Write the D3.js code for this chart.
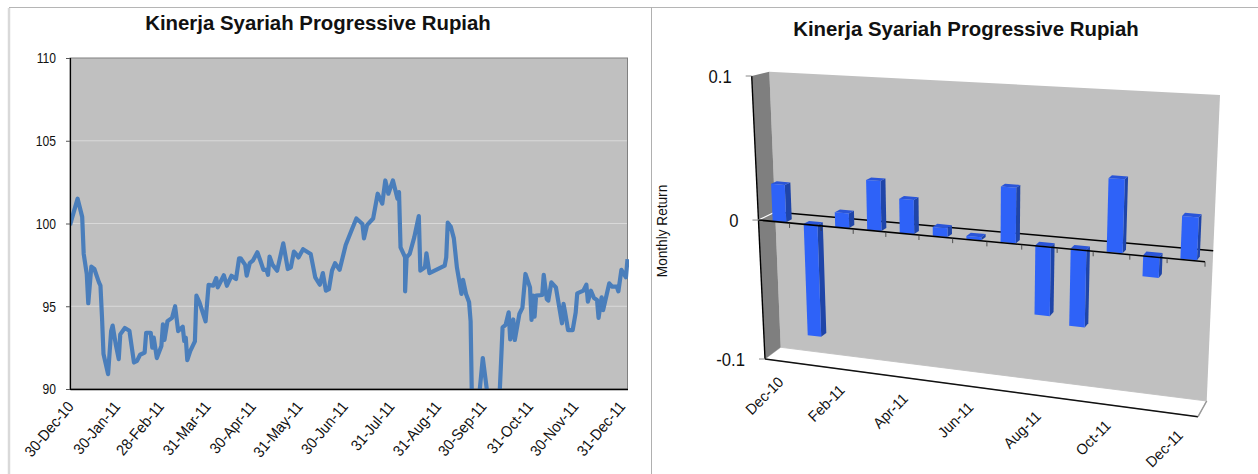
<!DOCTYPE html>
<html>
<head>
<meta charset="utf-8">
<script src="https://cdn.jsdelivr.net/npm/d3@7"></script>
<style>
  html, body { margin: 0; padding: 0; background: #fff; }
  svg { display: block; }
  text { font-family: "Liberation Sans", Arial, sans-serif; fill: #111; }
</style>
</head>
<body>
<div id="master"></div>
<script>
// left chart: days since 30-Dec-10 and index value
let dayOffsets = [0,5,8,9,11,12,14,16,19,20,21,22,25,27,28,30,32,33,36,39,42,44,46,49,50,53,54,55,57,60,61,62,64,67,69,71,74,75,76,77,79,82,83,85,89,91,94,96,97,101,103,106,109,111,112,115,116,118,120,123,125,127,129,130,131,133,136,140,143,145,147,148,150,153,158,161,164,166,168,170,172,174,177,181,184,188,192,193,195,199,202,205,207,209,212,215,216,217,220,220,221,223,226,229,230,233,234,236,246,247,248,250,252,254,257,258,260,262,263,264,268,271,275,282,284,286,288,289,291,292,295,297,299,302,303,304,305,306,310,311,313,314,316,319,323,324,325,327,330,332,333,337,339,340,342,344,346,347,349,350,354,356,359,360,362,365,366];
let indexValues = [99.9,101.5,100.4,98.16,96.95,95.18,97.39,97.25,96.44,96.24,94.35,92.11,90.9,93.5,93.83,92.72,91.8,93.3,93.69,93.52,91.6,91.7,92.07,92.2,93.4,93.4,92.5,93.1,91.87,92.6,93.9,92.96,94.1,94.3,95,93.5,93.76,92.9,93.1,91.75,92.3,92.88,95.64,95.24,94.09,96.3,96.24,96.7,96.14,96.87,96.24,96.84,96.65,97.9,97.9,97.5,96.85,97.6,97.75,98.26,97.75,97.2,97.2,96.9,98,97.5,97.15,98.8,97.25,97.35,98.3,98.2,97.95,98.45,98.16,96.75,96.3,97,95.94,96.04,97.15,97.6,97.2,98.7,99.4,100.3,99.97,99.1,99.9,100.3,101.8,101.2,102.6,101.8,102.6,101.5,101.9,98.56,97.96,95.9,97.96,98.16,99.16,100.45,97.15,97.35,98.2,97,97.45,97.96,100.05,99.8,99.1,97.35,95.74,96.6,95.74,95.24,94.1,88.5,89,91.87,89,89.6,93.73,93.88,94.63,93,94.2,92.96,94.53,94.9,96.95,96.14,94.17,95.64,94.37,95.64,95.68,96.9,95.44,95.34,96.44,96.14,93.97,95.14,94.64,93.56,93.56,94.63,95.78,95.94,96.3,95.28,95.94,95.5,95.38,94.3,95.54,94.77,96.38,96.18,96.18,95.9,97.2,96.75,97.85];
let dateTickOffsets = [0,31,60,91,121,152,182,213,244,274,305,335,366];
let dateTickLabels = ["30-Dec-10","30-Jan-11","28-Feb-11","31-Mar-11","30-Apr-11","31-May-11","30-Jun-11","31-Jul-11","31-Aug-11","30-Sep-11","31-Oct-11","30-Nov-11","31-Dec-11"];
let yTicks = [90,95,100,105,110];

// right chart: monthly return
let months = ["Dec-10","Jan-11","Feb-11","Mar-11","Apr-11","May-11","Jun-11","Jul-11","Aug-11","Sep-11","Oct-11","Nov-11","Dec-11"];
let returns = [0.026,-0.08,0.01,0.034,0.023,0.006,0.002,0.0367,-0.047,-0.052,0.0475,-0.014,0.027];
let returnTicks = [-0.1,0,0.1];

let title = "Kinerja Syariah Progressive Rupiah";
let w = 1258, h = 474;
let svg = d3.select("#master").append("svg").attr("width", w).attr("height", h);

// the source text is tall and narrow, so squeeze it along the baseline
let squeeze = (sel, k) => sel.each(function () {
  d3.select(this).attr("textLength", this.getComputedTextLength() * k).attr("lengthAdjust", "spacingAndGlyphs");
});

// panel frames
svg.append("line").attr("x1", 9).attr("x2", 9).attr("y1", 8).attr("y2", h).attr("stroke", "#d9d9d9").attr("stroke-width", 2.5);
svg.append("line").attr("x1", 9).attr("x2", w).attr("y1", 7.5).attr("y2", 7.5).attr("stroke", "#b5b5b5");
svg.append("line").attr("x1", 651.5).attr("x2", 651.5).attr("y1", 7).attr("y2", h).attr("stroke", "#b0b0b0");

// ---------- left chart
let startDate = new Date(2010, 11, 30);
let dayToDate = d => d3.timeDay.offset(startDate, d);
let xScale = d3.scaleTime().domain([startDate, dayToDate(366)]).range([70, 627.5]);
let yScale = d3.scaleLinear().domain([90, 110]).range([389, 58]);

svg.append("text").attr("x", 318).attr("y", 30).attr("text-anchor", "middle")
  .attr("font-size", 20.4).attr("font-weight", "bold").text(title);

svg.append("rect").attr("x", 70).attr("y", 58).attr("width", 557.5).attr("height", 331)
  .attr("fill", "#c0c0c0").attr("stroke", "#808080");

svg.append("g").selectAll("line").data(yTicks.filter(d => d > 90 && d < 110)).enter().append("line")
  .attr("x1", 70).attr("x2", 627).attr("y1", d => yScale(d)).attr("y2", d => yScale(d))
  .attr("stroke", "#d9d9d9");

svg.append("clipPath").attr("id", "plot-clip").append("rect")
  .attr("x", 70).attr("y", 58).attr("width", 559).attr("height", 331);

let lineGen = d3.line().x(d => xScale(dayToDate(d[0]))).y(d => yScale(d[1]));
svg.append("path").datum(d3.zip(dayOffsets, indexValues))
  .attr("clip-path", "url(#plot-clip)")
  .attr("d", lineGen).attr("fill", "none").attr("stroke", "#4a7ebb")
  .attr("stroke-width", 4.2).attr("stroke-linejoin", "round");

let yAxis = d3.axisLeft(yScale).tickValues(yTicks).tickSize(4).tickFormat(d3.format("d"));
let yG = svg.append("g").attr("transform", "translate(70,0)").call(yAxis);
yG.select(".domain").attr("stroke", "#000").attr("stroke-width", 1.2);
yG.selectAll("line").attr("stroke", "#555");
yG.selectAll("text").attr("font-size", 15.5).attr("font-family", "Liberation Sans").attr("x", -14).call(squeeze, 0.78);

let xAxis = d3.axisBottom(xScale).tickValues(dateTickOffsets.map(dayToDate)).tickSize(0)
  .tickFormat((d, i) => dateTickLabels[i]);
let xG = svg.append("g").attr("transform", "translate(0,389)").call(xAxis);
xG.select(".domain").attr("stroke", "#000").attr("stroke-width", 1.4);
xG.selectAll("text").attr("font-size", 15.5).attr("font-family", "Liberation Sans")
  .attr("text-anchor", "end").attr("x", 0).attr("y", 0).attr("dy", 0)
  .attr("transform", (d, i) => "translate(" + (4 - i * 0.5) + ",18) rotate(-50)").call(squeeze, 0.92);

// ---------- right chart, corners of the tilted box
let frontBox = { bl: [765, 359], br: [1198, 416.7], tr: [1212.3, 101], tl: [751.7, 76] };
let backBox = { bl: [780.7, 347.3], br: [1206.7, 401], tr: [1220, 95], tl: [769.3, 71.7] };
let catScale = d3.scaleLinear().domain([0, months.length]).range([0, 1]);
let valScale = d3.scaleLinear().domain([-0.1, 0, 0.1]).range([0, 0.491, 1]);
let stretch = s => s / (1.114 - 0.114 * s);

function onPlane(q, s, t) {
  let b = [q.bl[0] + (q.br[0] - q.bl[0]) * s, q.bl[1] + (q.br[1] - q.bl[1]) * s];
  let u = [q.tl[0] + (q.tr[0] - q.tl[0]) * s, q.tl[1] + (q.tr[1] - q.tl[1]) * s];
  return [b[0] + (u[0] - b[0]) * t, b[1] + (u[1] - b[1]) * t];
}
// category position, value, depth (0 front, 1 back) to screen
function project(cat, val, depth) {
  let s = stretch(catScale(cat)), t = valScale(val);
  let f = onPlane(frontBox, s, t), b = onPlane(backBox, s, t);
  return [f[0] + (b[0] - f[0]) * depth, f[1] + (b[1] - f[1]) * depth];
}
let n = months.length;
let poly = pts => pts.map(p => p.join(",")).join(" ");
let g3d = svg.append("g");

svg.append("text").attr("x", 966).attr("y", 36).attr("text-anchor", "middle")
  .attr("font-size", 20.4).attr("font-weight", "bold").text(title);

// floor, back wall, side wall
g3d.append("polygon").attr("fill", "#fff").attr("stroke", "#c8c8c8")
  .attr("points", poly([project(0,-0.1,0), project(n,-0.1,0), project(n,-0.1,1), project(0,-0.1,1)]));
g3d.append("polygon").attr("fill", "#c0c0c0")
  .attr("points", poly([project(0,0.1,1), project(n,0.1,1), project(n,-0.1,1), project(0,-0.1,1)]));
g3d.append("polygon").attr("fill", "#7f7f7f")
  .attr("points", poly([project(0,0.1,0), project(0,0.1,1), project(0,-0.1,1), project(0,-0.1,0)]));

let seg = (a, b, color, width) => g3d.append("line")
  .attr("x1", a[0]).attr("y1", a[1]).attr("x2", b[0]).attr("y2", b[1])
  .attr("stroke", color).attr("stroke-width", width);

seg(project(0,-0.1,0), project(0,0.1,0), "#000", 1.4);
seg(project(0,-0.1,0), project(n,-0.1,0), "#111", 1.5);
seg(project(n,-0.1,0), project(n,-0.1,1), "#999", 1.5);
seg(project(0,0,0), project(0,0,1), "#fff", 1.2);
seg(project(0,0,1), project(n,0,1), "#000", 1.5);

// bars sit slightly under the zero plane in the source
let halfBar = 0.22, d1 = 0.33, d2 = 0.67, barBase = -0.002;
let bars = g3d.selectAll(".bar").data(returns).enter().append("g").attr("class", "bar");
bars.each(function (v, i) {
  let a = i + 0.5 - halfBar, b = i + 0.5 + halfBar;
  let hi = Math.max(v, 0) + barBase, lo = Math.min(v, 0) + barBase;
  let g = d3.select(this);
  g.append("polygon").attr("fill", "#1f45a8")
    .attr("points", poly([project(b,hi,d1), project(b,hi,d2), project(b,lo,d2), project(b,lo,d1)]));
  g.append("polygon").attr("fill", "#2a55d8")
    .attr("points", poly([project(a,hi,d1), project(b,hi,d1), project(b,hi,d2), project(a,hi,d2)]));
  g.append("polygon").attr("fill", "#2e62f8")
    .attr("points", poly([project(a,hi,d1), project(b,hi,d1), project(b,lo,d1), project(a,lo,d1)]));
});

// front zero line and its ticks sit over the bars
seg(project(0,0,0), project(n,0,0), "#000", 1.5);
d3.range(1, n + 1).forEach(i => {
  let p = project(i, 0, 0);
  seg(p, [p[0], p[1] + 5], "#333", 0.8);
});

// value axis
returnTicks.forEach(v => {
  let p = project(0, v, 0);
  seg([p[0] - 6, p[1]], p, "#888", 1);
  svg.append("text").attr("x", p[0] - 20).attr("y", p[1] + 7).attr("text-anchor", "end")
    .attr("font-size", 18.5).text(v).call(squeeze, 0.9);
});
svg.append("text").attr("transform", "translate(667,231) rotate(-90)").attr("text-anchor", "middle")
  .attr("font-size", 14.5).text("Monthly Return").call(squeeze, 0.94);

// category labels, every second month
months.forEach((m, i) => {
  if (i % 2) return;
  let p = project(i + 0.5, -0.1, 0);
  svg.append("text").attr("text-anchor", "end").attr("font-size", 15)
    .attr("transform", "translate(" + (p[0] + 4.5) + "," + (p[1] + 22) + ") rotate(-45)").text(m).call(squeeze, 0.96);
});
</script>
</body>
</html>
